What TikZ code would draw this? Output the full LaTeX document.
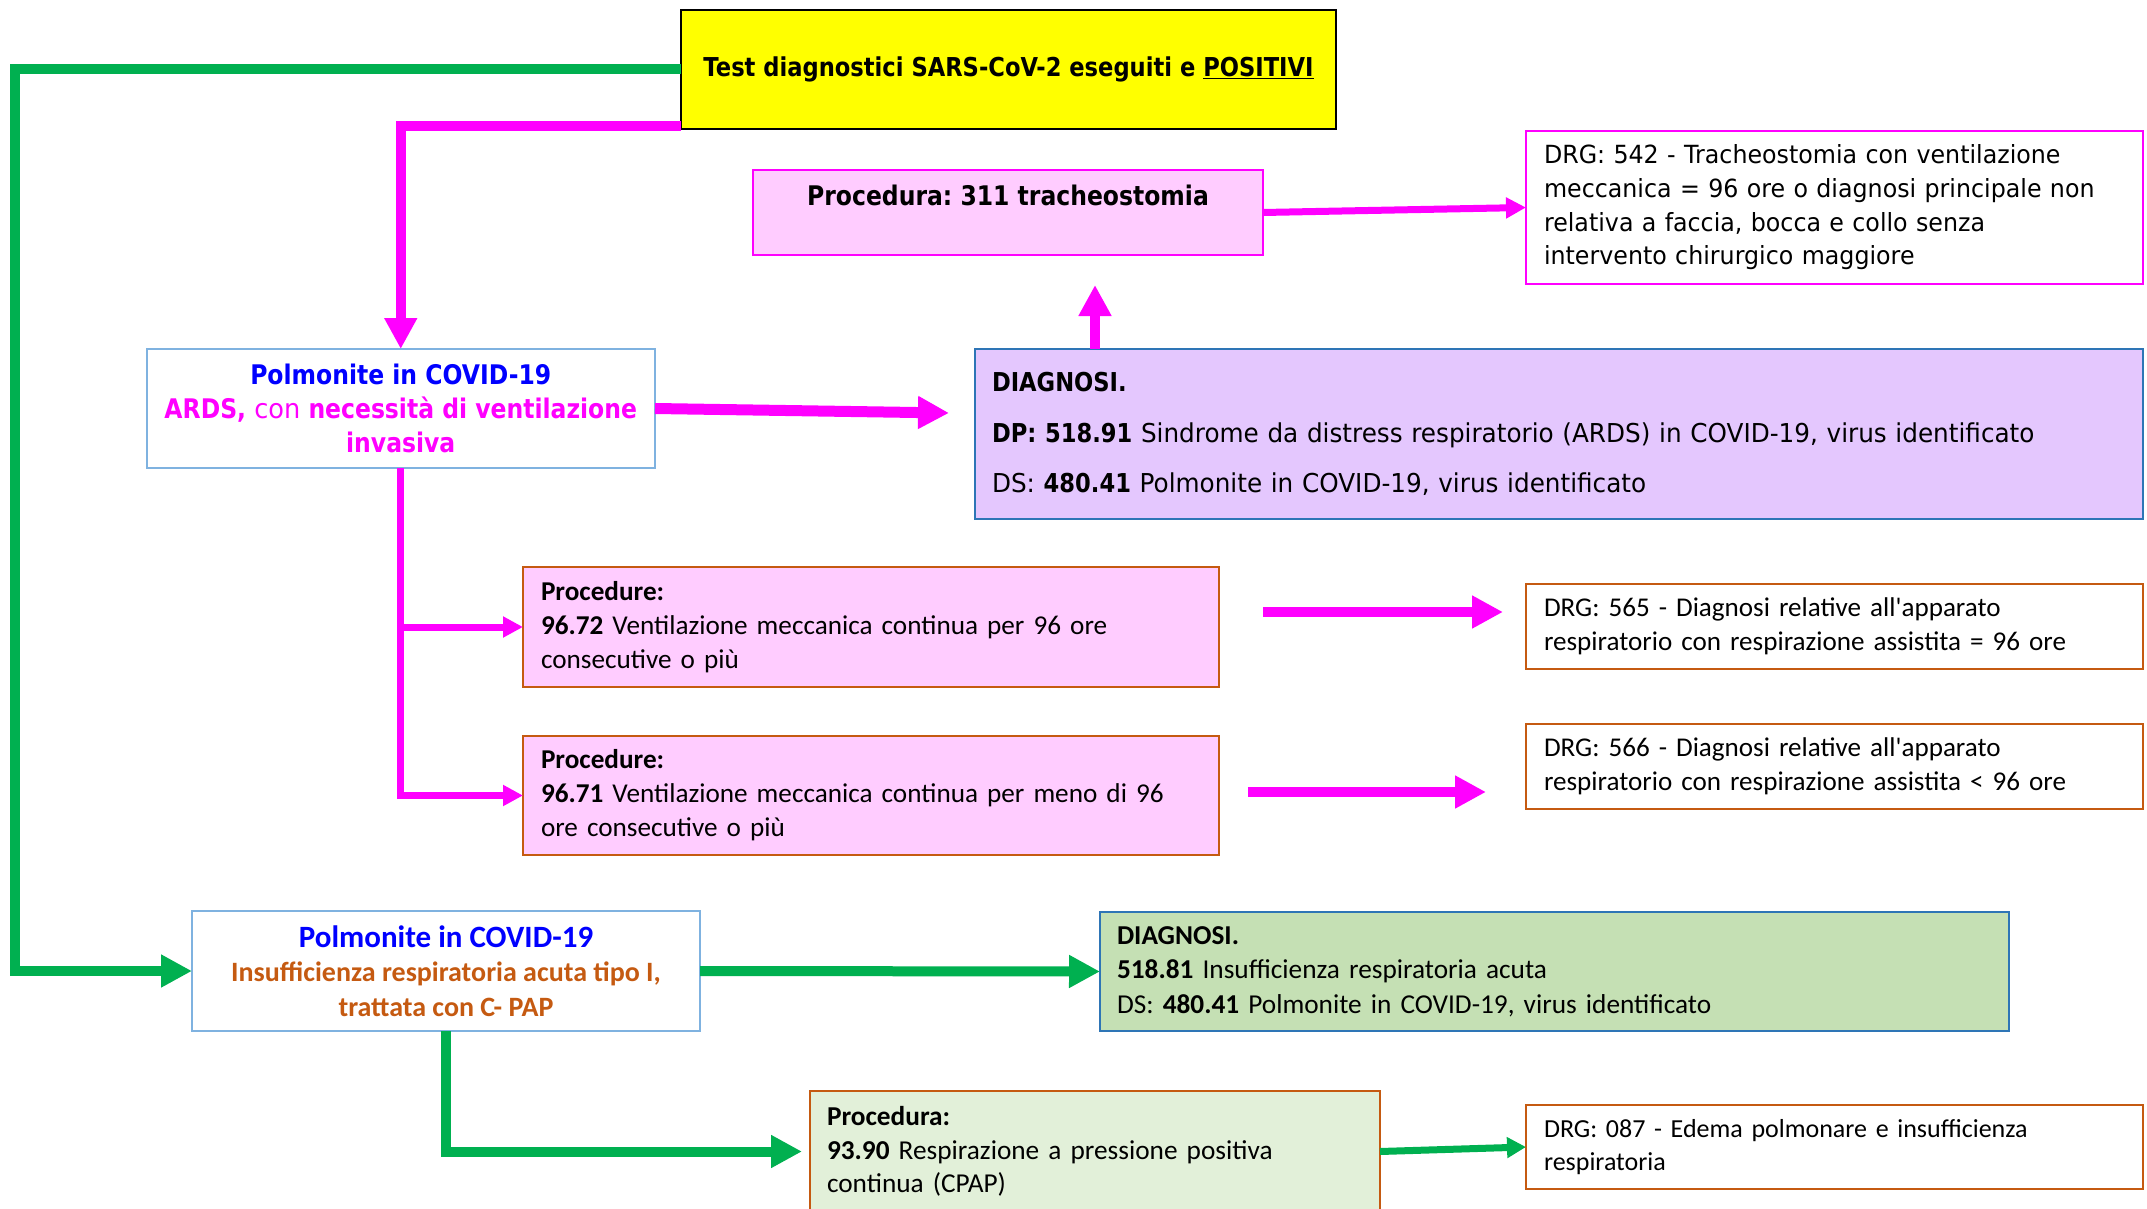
\documentclass[tikz,border=0pt]{standalone}
\usepackage{fontspec}
\usetikzlibrary{arrows.meta}
\newfontfamily\tahfont{DejaVu Sans}[FakeStretch=0.95, BoldFeatures={FakeStretch=0.87}]
\newfontfamily\califont{Carlito}
\definecolor{mag}{HTML}{FF00FF}
\definecolor{grn}{HTML}{00B050}
\definecolor{yel}{HTML}{FFFF00}
\definecolor{pinkfill}{HTML}{FFCCFF}
\definecolor{lavfill}{HTML}{E4C7FE}
\definecolor{bordblue}{HTML}{2E75B6}
\definecolor{lightblue}{HTML}{7FB2E0}
\definecolor{bordorange}{HTML}{C55A11}
\definecolor{txtblue}{HTML}{0000FF}
\definecolor{txtorange}{HTML}{C55A11}
\definecolor{grnfill}{HTML}{C5E0B4}
\definecolor{ltgrnfill}{HTML}{E2F0D9}
\begin{document}
\frenchspacing
\begin{tikzpicture}[x=1pt,y=-1pt,
  box/.style={draw, line width=2pt, anchor=north west, inner sep=0pt, outer sep=0pt},
  sz/.style 2 args={minimum width=#1, minimum height=#2},
  lefttext/.style={align=left, inner xsep=17pt, text width=#1},
  bigM/.style={draw=mag, line width=10pt, -{Triangle[length=31pt,width=31pt]}},
  smallM/.style={draw=mag, line width=7pt, -{Triangle[length=20pt,width=20pt]}},
  bigG/.style={draw=grn, line width=10pt, -{Triangle[length=31pt,width=31pt]}},
  smallG/.style={draw=grn, line width=7pt, -{Triangle[length=19pt,width=20pt]}}
]
\useasboundingbox (0,0) rectangle (2147,1209);

% boxes
\node[box, fill=yel, draw=black, line width=2.5pt, sz={655pt}{119pt}, align=center,
  font=\tahfont\bfseries\fontsize{26}{34}\selectfont] (test) at (681,10)
  {Test diagnostici SARS-CoV-2 eseguiti e \underline{POSITIVI}};

\node[box, fill=pinkfill, draw=mag, sz={510pt}{85pt}, align=center,
  font=\tahfont\bfseries\fontsize{27}{34}\selectfont] (p311) at (753,170)
  {Procedura: 311 tracheostomia\\\mbox{}};

\node[box, fill=white, draw=mag, sz={617pt}{153pt}, lefttext=581pt,
  font=\tahfont\fontsize{25}{33.7}\selectfont] (drg542) at (1526,131)
  {DRG: 542 - Tracheostomia con ventilazione\\
   meccanica = 96 ore o diagnosi principale non\\
   relativa a faccia, bocca e collo senza\\
   intervento chirurgico maggiore};

\node[box, fill=white, draw=lightblue, sz={508.5pt}{119pt}, align=center,
  font=\tahfont\bfseries\fontsize{27}{34}\selectfont] (polm1) at (146.5,349)
  {\textcolor{txtblue}{Polmonite in COVID-19}\\
   \textcolor{mag}{ARDS, {\mdseries con} necessità di ventilazione}\\
   \textcolor{mag}{invasiva}};

\node[box, fill=lavfill, draw=bordblue, sz={1168pt}{170pt}, lefttext=1134pt,
  font=\tahfont\fontsize{26}{50.5}\selectfont] (diag1) at (975,349)
  {\textbf{DIAGNOSI.}\\
   \textbf{DP: 518.91} Sindrome da distress respiratorio (ARDS) in COVID-19, virus identificato\\
   DS: \textbf{480.41} Polmonite in COVID-19, virus identificato};

\node[box, fill=pinkfill, draw=bordorange, sz={696pt}{120pt}, lefttext=660pt,
  font=\califont\fontsize{27.2}{34}\selectfont] (p9672) at (523,567)
  {\textbf{Procedure:}\\
   \textbf{96.72} Ventilazione meccanica continua per 96 ore\\
   consecutive o più};

\node[box, fill=pinkfill, draw=bordorange, sz={696pt}{119pt}, lefttext=660pt,
  font=\califont\fontsize{27.2}{34}\selectfont] (p9671) at (523,736)
  {\textbf{Procedure:}\\
   \textbf{96.71} Ventilazione meccanica continua per meno di 96\\
   ore consecutive o più};

\node[box, fill=white, draw=bordorange, sz={617pt}{85pt}, lefttext=581pt,
  font=\califont\fontsize{27.1}{34}\selectfont] (drg565) at (1526,584)
  {DRG: 565 - Diagnosi relative all'apparato\\
   respiratorio con respirazione assistita = 96 ore};

\node[box, fill=white, draw=bordorange, sz={617pt}{85pt}, lefttext=581pt,
  font=\califont\fontsize{27.1}{34}\selectfont] (drg566) at (1526,724)
  {DRG: 566 - Diagnosi relative all'apparato\\
   respiratorio con respirazione assistita < 96 ore};

\node[box, fill=white, draw=lightblue, sz={508pt}{120pt}, align=center,
  font=\califont\bfseries\fontsize{28}{34.5}\selectfont] (polm2) at (192,911)
  {\textcolor{txtblue}{\fontsize{31}{34.5}\selectfont Polmonite in COVID-19}\\
   \textcolor{txtorange}{Insufficienza respiratoria acuta tipo I,}\\
   \textcolor{txtorange}{trattata con C- PAP}};

\node[box, fill=grnfill, draw=bordblue, sz={909pt}{119pt}, lefttext=875pt,
  font=\califont\fontsize{27.3}{34.5}\selectfont] (diag2) at (1100,912)
  {\textbf{DIAGNOSI.}\\
   \textbf{518.81} Insufficienza respiratoria acuta\\
   DS: \textbf{480.41} Polmonite in COVID-19, virus identificato};

\node[box, fill=ltgrnfill, draw=bordorange, line width=1.5pt, sz={570pt}{121pt}, lefttext=536pt,
  font=\califont\fontsize{27.3}{33.5}\selectfont] (p9390) at (810,1091)
  {\textbf{Procedura:}\\
   \textbf{93.90} Respirazione a pressione positiva\\
   continua (CPAP)};

\node[box, fill=white, draw=bordorange, sz={617pt}{84pt}, lefttext=581pt,
  font=\califont\fontsize{26}{33}\selectfont] (drg087) at (1526,1105)
  {DRG: 087 - Edema polmonare e insufficienza\\
   respiratoria};

% connectors
\coordinate (gcorner) at (15,69.5);
\draw[bigG] (test.west) -- (gcorner) |- (polm2.west);

\coordinate (mstart) at (681,126.5);
\draw[bigM] (mstart) -| (polm1.north);

\coordinate (mtipA) at (949,413);
\draw[bigM, line width=11pt] (polm1.east) -- (mtipA);

\coordinate (mtipB) at (1095,285);
\draw[bigM] (diag1.north -| mtipB) -- (mtipB);

\draw[smallM] (p311.east) -- (drg542.west);

\draw[smallM] (polm1.south) |- (p9672.west);
\draw[smallM] (polm1.south) |- (p9671.west);

\coordinate (a1s) at (1263,612);
\coordinate (a1e) at (1503,612);
\draw[bigM] (a1s) -- (a1e);

\coordinate (a2s) at (1248,792);
\coordinate (a2e) at (1486,792);
\draw[bigM] (a2s) -- (a2e);

\draw[bigG] (polm2.east) -- (diag2.west);
\draw[bigG] (polm2.south) |- ([xshift=-8pt]p9390.west);
\draw[smallG] (p9390.east) -- (drg087.west);
\end{tikzpicture}
\end{document}
